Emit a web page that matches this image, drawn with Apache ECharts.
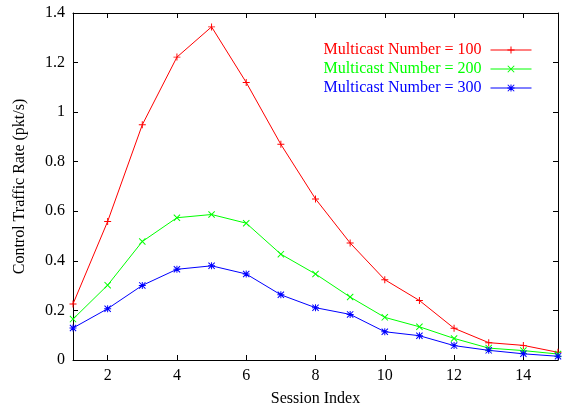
<!DOCTYPE html>
<html><head><meta charset="utf-8">
<script src="https://cdn.jsdelivr.net/npm/echarts@6/dist/echarts.min.js"></script>
<style>html,body{margin:0;padding:0;background:#fff}#c{width:564px;height:410px}</style>
</head><body><div id="c"></div>
<script>
const sessions = [1,2,3,4,5,6,7,8,9,10,11,12,13,14,15];
const mc100 = [0.226,0.559,0.949,1.222,1.344,1.12,0.87,0.65,0.472,0.324,0.24,0.128,0.07,0.059,0.031];
const mc200 = [0.165,0.302,0.478,0.574,0.587,0.552,0.427,0.347,0.254,0.172,0.134,0.087,0.048,0.038,0.024];
const mc300 = [0.129,0.207,0.301,0.366,0.38,0.347,0.263,0.211,0.184,0.114,0.098,0.058,0.039,0.025,0.015];
const xTicks = [2,4,6,8,10,12,14];
const yTicks = [0,0.2,0.4,0.6,0.8,1,1.2,1.4];
const names = ['Multicast Number = 100','Multicast Number = 200','Multicast Number = 300'];
const colors = ['#ff0000','#00ff00','#0000ff'];

const plus = 'path://M4.3,0H5.7V4.3H10V5.7H5.7V10H4.3V5.7H0V4.3H4.3Z';
const cross = 'path://M0,1L1,0L10,9L9,10ZM9,0L10,1L1,10L0,9Z';
const star = 'path://M4.3,0H5.7V4.3H10V5.7H5.7V10H4.3V5.7H0V4.3H4.3ZM0,1L1,0L10,9L9,10ZM9,0L10,1L1,10L0,9Z';
const syms = [plus, cross, star];
const datasets = [mc100, mc200, mc300];

const font = 'Liberation Serif';
const chart = echarts.init(document.getElementById('c'));
const axCommon = {
  type:'value', splitLine:{show:false},
  axisLine:{show:true, onZero:false, lineStyle:{color:'#000', width:1}},
  axisTick:{show:true, inside:true, length:5, lineStyle:{color:'#000'}},
};
chart.setOption({
  animation:false,
  backgroundColor:'#fff',
  grid:{left:73, right:6, top:13, bottom:50, containLabel:false, outerBoundsMode:'none'},
  legend:{
    orient:'vertical', align:'right', right:27, top:37, itemWidth:41, itemHeight:9, itemGap:3,
    lineStyle:{width:1},
    textStyle:{fontFamily:font, fontSize:16, padding:[0,4,0,0]},
    data: names.map((n,i)=>({name:n, textStyle:{color:colors[i]}}))
  },
  xAxis:[
    Object.assign({}, axCommon, {min:1, max:15, position:'bottom',
      axisTick:{show:true, inside:true, length:5, lineStyle:{color:'#000'}, customValues:xTicks},
      axisLabel:{customValues:xTicks, color:'#000', fontFamily:font, fontSize:16, margin:8},
      name:'Session Index', nameLocation:'middle', nameGap:31,
      nameTextStyle:{color:'#000', fontFamily:font, fontSize:16}}),
    Object.assign({}, axCommon, {min:1, max:15, position:'top',
      axisTick:{show:true, inside:true, length:5, lineStyle:{color:'#000'}, customValues:xTicks},
      axisLabel:{show:false}})
  ],
  yAxis:[
    Object.assign({}, axCommon, {min:0, max:1.4, interval:0.2, position:'left',
      axisLabel:{color:'#000', fontFamily:font, fontSize:16, margin:8},
      name:'Control Traffic Rate (pkt/s)', nameLocation:'middle', nameGap:45,
      nameTextStyle:{color:'#000', fontFamily:font, fontSize:16}}),
    Object.assign({}, axCommon, {min:0, max:1.4, interval:0.2, position:'right',
      axisLabel:{show:false}})
  ],
  series: names.map((n,i)=>({
    name:n, type:'line', xAxisIndex:0, yAxisIndex:0,
    data: sessions.map((s,j)=>[s, datasets[i][j]]),
    symbol: syms[i], symbolSize:7, showAllSymbol:true,
    lineStyle:{color:colors[i], width:1},
    itemStyle:{color:colors[i]},
    emphasis:{disabled:true}
  }))
});
</script></body></html>
